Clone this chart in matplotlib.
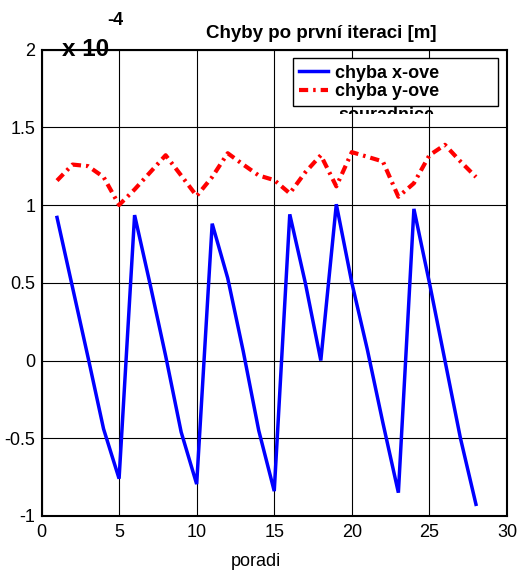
import matplotlib
matplotlib.use("Agg")
import matplotlib.pyplot as plt
from matplotlib.transforms import Bbox

plt.rcParams['font.family'] = ['Liberation Sans', 'DejaVu Sans']

# data (values in units of 1e-4 m)
poradi = list(range(1, 29))
chyba_x = [0.92, 0.47, 0.02, -0.44, -0.76, 0.935, 0.49, 0.03, -0.46, -0.795,
           0.88, 0.53, 0.06, -0.45, -0.84, 0.94, 0.50, 0.00, 1.005, 0.50,
           0.07, -0.40, -0.85, 0.975, 0.50, 0.00, -0.50, -0.925]
chyba_y = [1.157, 1.26, 1.25, 1.18, 1.00, 1.10, 1.21, 1.32, 1.19, 1.058,
           1.18, 1.333, 1.26, 1.19, 1.16, 1.075, 1.21, 1.32, 1.12, 1.34,
           1.31, 1.28, 1.053, 1.14, 1.32, 1.387, 1.28, 1.18]
xticks = [0, 5, 10, 15, 20, 25, 30]
yticks = [-1, -0.5, 0, 0.5, 1, 1.5, 2]
ytick_labels = ['-1', '-0.5', '0', '0.5', '1', '1.5', '2']
labels = ['chyba x-ove', 'chyba y-ove']

W, H = 525, 571
fig = plt.figure(figsize=(W / 100, H / 100), dpi=100)
L, R, T, B = 41.5, 507, 49.5, 516
ax = fig.add_axes([L / W, 1 - B / H, (R - L) / W, (B - T) / H])

ax.plot(poradi, chyba_x, color='#0000ff', lw=2.5, label=labels[0], zorder=3,
        solid_joinstyle='miter')
ax.plot(poradi, chyba_y, color='#ff0000', lw=3.0, label=labels[1], zorder=3,
        linestyle=(0, (2.2, 1.2, 0.6, 1.2)))

ax.set_xlim(0, 30)
ax.set_ylim(-1, 2)
ax.set_xticks(xticks)
ax.set_yticks(yticks)
ax.set_yticklabels(ytick_labels)
ax.grid(True, color='black', lw=0.8, zorder=1)
ax.set_axisbelow(True)
for s in ax.spines.values():
    s.set_linewidth(1.5)
ax.tick_params(direction='in', length=0, labelsize=13, colors='black')
ax.tick_params(axis='x', pad=5.5)
ax.tick_params(axis='y', pad=4.5)

leg = ax.legend(loc='upper left',
                bbox_to_anchor=((292.7 - L) / (R - L), (B - 58.3) / (B - T),
                                (498.3 - 292.7) / (R - L), 0.0),
                mode='expand', prop={'weight': 'bold', 'size': 13},
                fancybox=False, framealpha=1, edgecolor='black',
                borderpad=0.35, labelspacing=0.08, handlelength=1.6,
                handletextpad=0.4, borderaxespad=0)
leg.get_frame().set_linewidth(1.0)
leg.set_zorder(5)

# clipped overflow text below the legend
t = fig.text(338 / W, 1 - 116 / H, 'souradnice', fontsize=13, fontweight='bold',
             ha='left', va='center')
t.set_clip_box(Bbox([[330, H - 113.5], [440, H - 106]]))

fig.text(255.5 / W, 1 - 566 / H, 'poradi', fontsize=13, ha='center', va='baseline')
fig.text(321 / W, 1 - 33 / H, 'Chyby po první iteraci [m]', fontsize=13.5,
         fontweight='bold', ha='center', va='center')
fig.text(62 / W, 1 - 56 / H, 'x 10', fontsize=17.5, fontweight='bold',
         ha='left', va='baseline')
fig.text(107 / W, 1 - 25 / H, '-4', fontsize=13, fontweight='bold',
         ha='left', va='baseline')

fig.savefig('out.png', dpi=100)
